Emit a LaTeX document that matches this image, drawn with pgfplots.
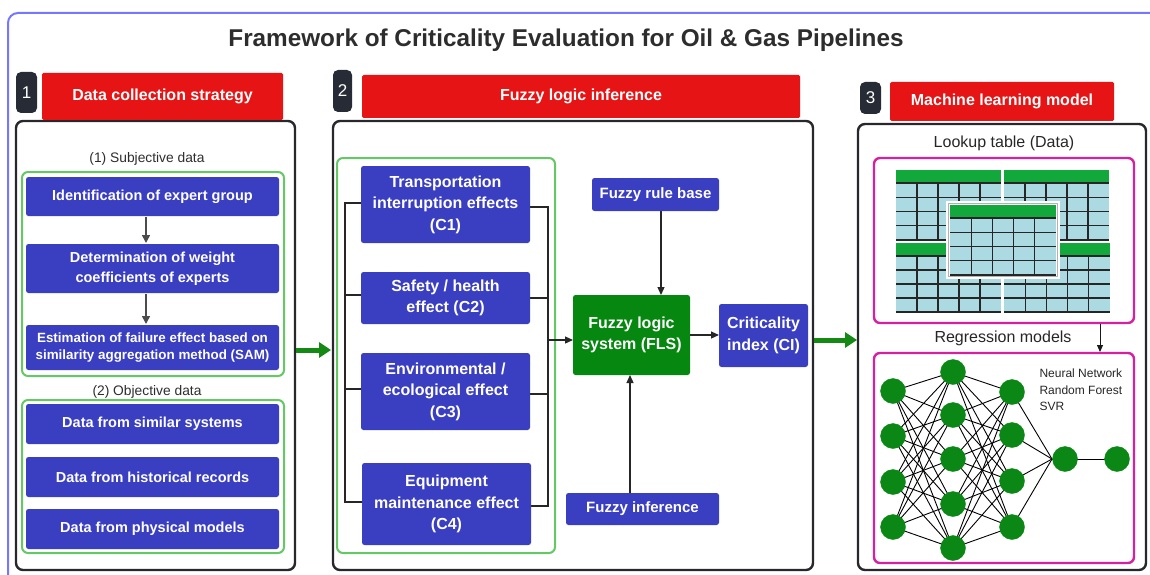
\documentclass[border=0pt]{standalone}
\usepackage{fontspec}
\setmainfont{Liberation Sans}
\usepackage{pgfplots}
\pgfplotsset{compat=1.18}
\usetikzlibrary{arrows.meta}
\definecolor{boxblue}{RGB}{58,62,192}
\definecolor{hdrred}{RGB}{230,20,20}
\definecolor{grpgreen}{RGB}{100,200,100}
\definecolor{badge}{RGB}{38,43,54}
\definecolor{flsgreen}{RGB}{6,135,15}
\definecolor{arrgreen}{RGB}{20,138,20}
\definecolor{magent}{RGB}{214,32,160}
\definecolor{frameblue}{RGB}{118,118,255}
\definecolor{panel}{RGB}{40,40,44}
\definecolor{cellblue}{RGB}{172,218,226}
\definecolor{tabgreen}{RGB}{18,168,60}
\definecolor{nngreen}{RGB}{10,135,20}
\definecolor{txtgray}{RGB}{45,45,45}
\newcommand{\fs}[2]{\fontsize{#1}{#2}\selectfont}
\tikzset{
  box/.style={fill=boxblue, draw=none, rounded corners=2.5pt, text=white, align=center, inner sep=0pt},
  hdr/.style={fill=hdrred, draw=none, rounded corners=1.5pt, text=white, align=center, inner sep=0pt},
  bdg/.style={fill=badge, draw=none, rounded corners=5pt, text=white, align=center, inner sep=0pt},
  sarr/.style={draw=black!85, line width=1.2pt, -{Triangle[length=8pt,width=7pt]}},
  garr/.style={draw=arrgreen, line width=5pt, -{Triangle[length=12pt,width=15pt]}},
}
\newcommand{\tbl}[4]{%
  \fill[cellblue] (axis cs:#1,#2) rectangle (axis cs:#3,#4);
  \fill[tabgreen] (axis cs:#1,#2) rectangle (axis cs:#3,{#2+13});
  \foreach \k in {1,2,3,4} {
    \draw[black!85,line width=1.1pt] (axis cs:{#1+\k*(#3-#1)/5},{#2+13}) -- (axis cs:{#1+\k*(#3-#1)/5},#4);
    \draw[black!85,line width=1.1pt] (axis cs:#1,{#2+13+\k*(#4-#2-13)/4}) -- (axis cs:#3,{#2+13+\k*(#4-#2-13)/4});
  }
  \draw[black!85,line width=1.1pt] (axis cs:#1,{#2+13}) -- (axis cs:#3,{#2+13});
}
\begin{document}
\begin{tikzpicture}
\begin{axis}[
  width=1150pt, height=575pt, scale only axis,
  xmin=0, xmax=1150, ymin=0, ymax=575, y dir=reverse,
  hide axis, clip=false,
]
% outer frame
\draw[frameblue, line width=2pt, rounded corners=10pt] (axis cs:8,13) rectangle (axis cs:1175,600);
% title
\node[text=txtgray, font=\fs{24.3}{28}\bfseries] at (axis cs:566,40) {Framework of Criticality Evaluation for Oil \& Gas Pipelines};

% ---------- panels
\draw[panel, line width=2.4pt, rounded corners=7pt] (axis cs:16,121) rectangle (axis cs:295,570);
\draw[panel, line width=2.4pt, rounded corners=7pt] (axis cs:333,121) rectangle (axis cs:813,570);
\draw[panel, line width=2.4pt, rounded corners=7pt] (axis cs:858,124) rectangle (axis cs:1146,570);

% badges and headers
\node[bdg, minimum width=21pt, minimum height=41pt, font=\fs{17}{19}] at (axis cs:26.5,92.5) {1};
\node[bdg, minimum width=19pt, minimum height=42pt, font=\fs{17}{19}] at (axis cs:342.5,91) {2};
\node[bdg, minimum width=21pt, minimum height=32pt, font=\fs{17}{19}] at (axis cs:870.5,98) {3};
\node[hdr, minimum width=241pt, minimum height=47pt, font=\fs{16}{18}\bfseries] at (axis cs:162.5,96.5) {Data collection strategy};
\node[hdr, minimum width=438pt, minimum height=43pt, font=\fs{16}{18}\bfseries] at (axis cs:581,96.5) {Fuzzy logic inference};
\node[hdr, minimum width=224pt, minimum height=39pt, font=\fs{16}{18}\bfseries] at (axis cs:1002,101.5) {Machine learning model};

% ---------- section 1
\node[text=txtgray, font=\fs{13.8}{16}] at (axis cs:147,159) {(1) Subjective data};
\node[text=txtgray, font=\fs{13.8}{16}] at (axis cs:147,392) {(2) Objective data};
\draw[grpgreen, line width=2pt, rounded corners=6pt] (axis cs:22,172) rectangle (axis cs:284,376);
\draw[grpgreen, line width=2pt, rounded corners=6pt] (axis cs:22,400) rectangle (axis cs:284,553);
\node[box, minimum width=253pt, minimum height=39pt, font=\fs{14.5}{20}\bfseries] at (axis cs:152.5,196.5) {Identification of expert group};
\node[box, minimum width=253pt, minimum height=49pt, font=\fs{14.5}{20}\bfseries] at (axis cs:152.5,268.5) {Determination of weight\\coefficients of experts};
\node[box, minimum width=253pt, minimum height=45pt, font=\fs{13.4}{17.5}\bfseries] at (axis cs:152.5,347.5) {Estimation of failure effect based on\\similarity aggregation method (SAM)};
\node[box, minimum width=253pt, minimum height=40pt, font=\fs{14.5}{20}\bfseries] at (axis cs:152.5,424) {Data from similar systems};
\node[box, minimum width=253pt, minimum height=40pt, font=\fs{14.5}{20}\bfseries] at (axis cs:152.5,477) {Data from historical records};
\node[box, minimum width=253pt, minimum height=40pt, font=\fs{14.5}{20}\bfseries] at (axis cs:152.5,529) {Data from physical models};
\draw[draw=black!70, line width=1.6pt, -{Triangle[length=8pt,width=8pt]}] (axis cs:146,217) -- (axis cs:146,243);
\draw[draw=black!70, line width=1.6pt, -{Triangle[length=8pt,width=8pt]}] (axis cs:146,294) -- (axis cs:146,324);

% green arrows between sections
\draw[garr] (axis cs:296,350) -- (axis cs:331,350);
\draw[garr] (axis cs:814,340) -- (axis cs:857,340);

% ---------- section 2
\draw[grpgreen, line width=2pt, rounded corners=6pt] (axis cs:337,158) rectangle (axis cs:555,553);
\draw[black!85, line width=1.3pt] (axis cs:361,203) -- (axis cs:345,203) -- (axis cs:345,502) -- (axis cs:362,502);
\draw[black!85, line width=1.3pt] (axis cs:345,295) -- (axis cs:361,295);
\draw[black!85, line width=1.3pt] (axis cs:345,389) -- (axis cs:361,389);
\draw[black!85, line width=1.3pt] (axis cs:530,207) -- (axis cs:548,207) -- (axis cs:548,506) -- (axis cs:531,506);
\draw[black!85, line width=1.3pt] (axis cs:530,298) -- (axis cs:548,298);
\draw[black!85, line width=1.3pt] (axis cs:530,394) -- (axis cs:548,394);
\draw[sarr] (axis cs:548,340) -- (axis cs:573,340);
\draw[sarr] (axis cs:661,211) -- (axis cs:661,295);
\draw[sarr] (axis cs:630,493) -- (axis cs:630,375);
\draw[sarr] (axis cs:690,335) -- (axis cs:719,335);
\node[box, minimum width=169pt, minimum height=77pt, font=\fs{16}{21.5}\bfseries] at (axis cs:445.5,204.5) {Transportation\\interruption effects\\(C1)};
\node[box, minimum width=169pt, minimum height=52pt, font=\fs{16}{21.5}\bfseries] at (axis cs:445.5,298) {Safety / health\\effect (C2)};
\node[box, minimum width=169pt, minimum height=77pt, font=\fs{16}{21.5}\bfseries] at (axis cs:445.5,391.5) {Environmental /\\ecological effect\\(C3)};
\node[box, minimum width=169pt, minimum height=82pt, font=\fs{16}{21.5}\bfseries] at (axis cs:446.5,504) {Equipment\\maintenance effect\\(C4)};
\node[box, minimum width=127pt, minimum height=33pt, font=\fs{15}{17}\bfseries] at (axis cs:655.5,194.5) {Fuzzy rule base};
\node[box, fill=flsgreen, minimum width=117pt, minimum height=80pt, font=\fs{16}{21}\bfseries] at (axis cs:631.5,335) {Fuzzy logic\\system (FLS)};
\node[box, minimum width=89pt, minimum height=63pt, font=\fs{16}{21.5}\bfseries] at (axis cs:763.5,335.5) {Criticality\\index (CI)};
\node[box, minimum width=153pt, minimum height=32pt, font=\fs{15}{17}\bfseries] at (axis cs:642.5,509) {Fuzzy inference};

% ---------- section 3
\node[text=black!85, font=\fs{16}{18}] at (axis cs:1004,143) {Lookup table (Data)};
\node[text=black!85, font=\fs{16}{18}] at (axis cs:1003,338) {Regression models};
\draw[magent, line width=2.4pt, rounded corners=6pt] (axis cs:874,158) rectangle (axis cs:1134,323);
\draw[magent, line width=2.4pt, rounded corners=6pt] (axis cs:874,353) rectangle (axis cs:1134,563);
\draw[draw=black!90, line width=0.9pt, -{Triangle[length=7pt,width=6pt]}] (axis cs:1100,324) -- (axis cs:1100,352);
\pgfplotsextra{
  \tbl{896}{170}{1001}{240}
  \tbl{1004}{170}{1109}{240}
  \tbl{896}{243}{1001}{312}
  \tbl{1004}{243}{1110}{312}
  \fill[white] (axis cs:946,201) rectangle (axis cs:1060,279);
  \tbl{950}{205}{1056}{275}
  \draw[black!30, line width=1.6pt] (axis cs:948.5,203.5) rectangle (axis cs:1057.5,276.5);
  % network edges
  \foreach \ya in {391,436,482,527} {
    \foreach \yb in {372,415,459,504,548} {
      \draw[black, line width=0.9pt] (axis cs:893,\ya) -- (axis cs:953,\yb);
    }
  }
  \foreach \ya in {372,415,459,504,548} {
    \foreach \yb in {392,435,481,527} {
      \draw[black, line width=0.9pt] (axis cs:953,\ya) -- (axis cs:1012,\yb);
    }
  }
  \foreach \ya in {392,435,481,527} {
    \draw[black, line width=0.9pt] (axis cs:1012,\ya) -- (axis cs:1052,459);
  }
  \draw[black, line width=0.9pt] (axis cs:1052,459) -- (axis cs:1117,459);
}
\addplot[only marks, mark=*, mark size=12.5pt, color=nngreen, mark options={draw=nngreen, fill=nngreen}] table {
x y
893 391
893 436
893 482
893 527
953 372
953 415
953 459
953 504
953 548
1012 392
1012 435
1012 481
1012 527
1065 459
1117 459
};
\node[anchor=west, text=black!85, font=\fs{12}{16.5}, align=left] at (axis cs:1036,390) {Neural Network\\Random Forest\\SVR};
\end{axis}
\pgfresetboundingbox
\path (current axis.south west) rectangle (current axis.north east);
\end{tikzpicture}
\end{document}
